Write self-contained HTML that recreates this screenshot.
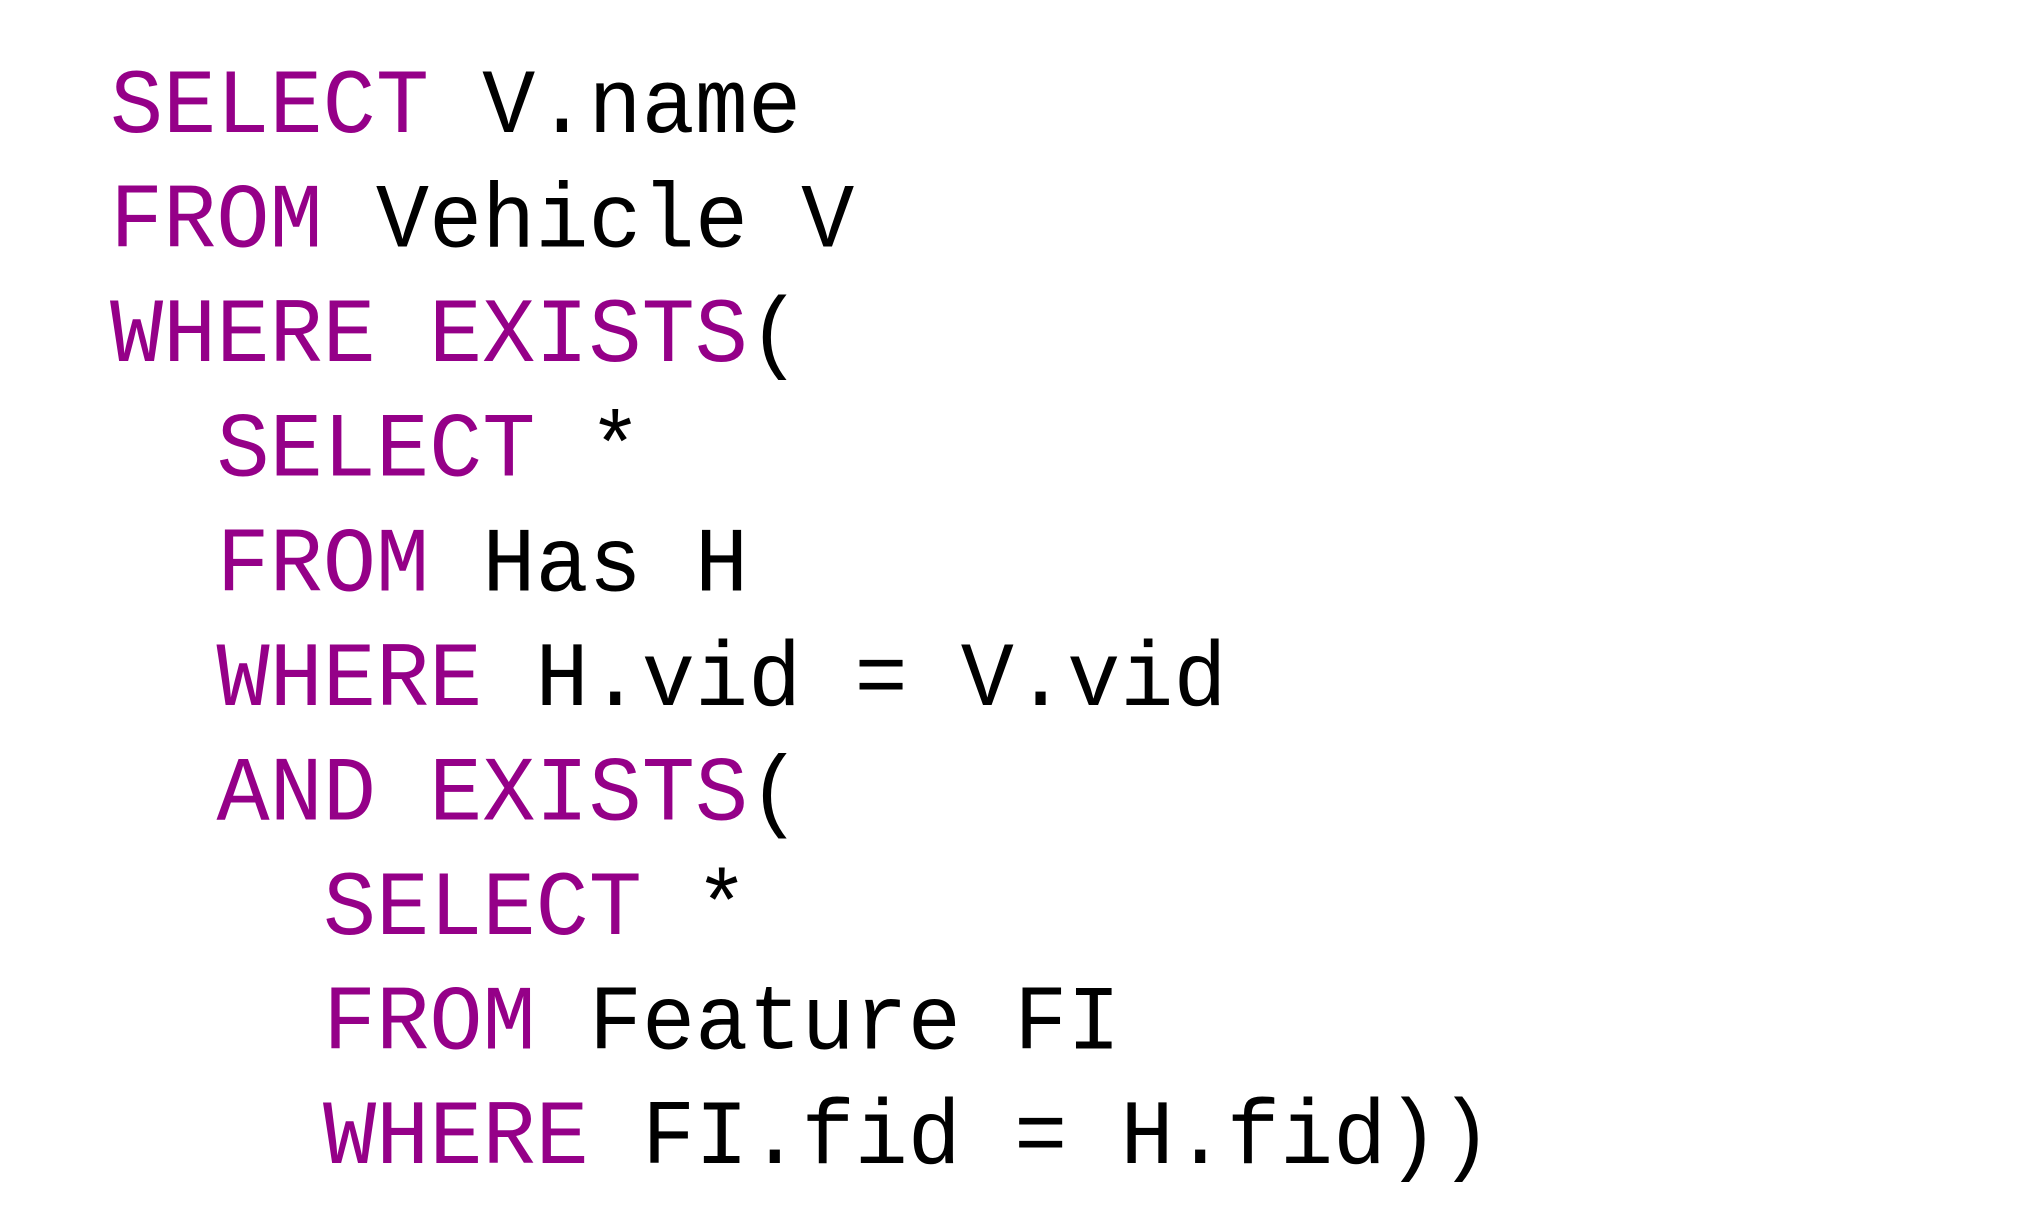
<!DOCTYPE html>
<html><head><meta charset="utf-8"><style>
html,body{margin:0;padding:0;background:#fff;width:2028px;height:1228px;overflow:hidden}
svg text{font-family:"Liberation Mono",monospace;font-size:88.6px;white-space:pre}
.k{fill:#950088}
</style></head><body>
<svg width="2028" height="1228" xmlns="http://www.w3.org/2000/svg" xml:space="preserve">
<g transform="translate(0,-1) scale(1,1.035)">
<text x="110" y="128.5"><tspan class="k">SELECT</tspan> V.name</text>
<text x="110" y="239.2"><tspan class="k">FROM</tspan> Vehicle V</text>
<text x="110" y="349.9"><tspan class="k">WHERE EXISTS</tspan>(</text>
<text x="216.5" y="460.6"><tspan class="k">SELECT</tspan> *</text>
<text x="216.5" y="571.3"><tspan class="k">FROM</tspan> Has H</text>
<text x="216.5" y="682"><tspan class="k">WHERE</tspan> H.vid = V.vid</text>
<text x="216.5" y="792.7"><tspan class="k">AND EXISTS</tspan>(</text>
<text x="323" y="903.4"><tspan class="k">SELECT</tspan> *</text>
<text x="323" y="1014.1"><tspan class="k">FROM</tspan> Feature FI</text>
<text x="323" y="1124.8"><tspan class="k">WHERE</tspan> FI.fid = H.fid))</text>
</g>
</svg>
</body></html>
